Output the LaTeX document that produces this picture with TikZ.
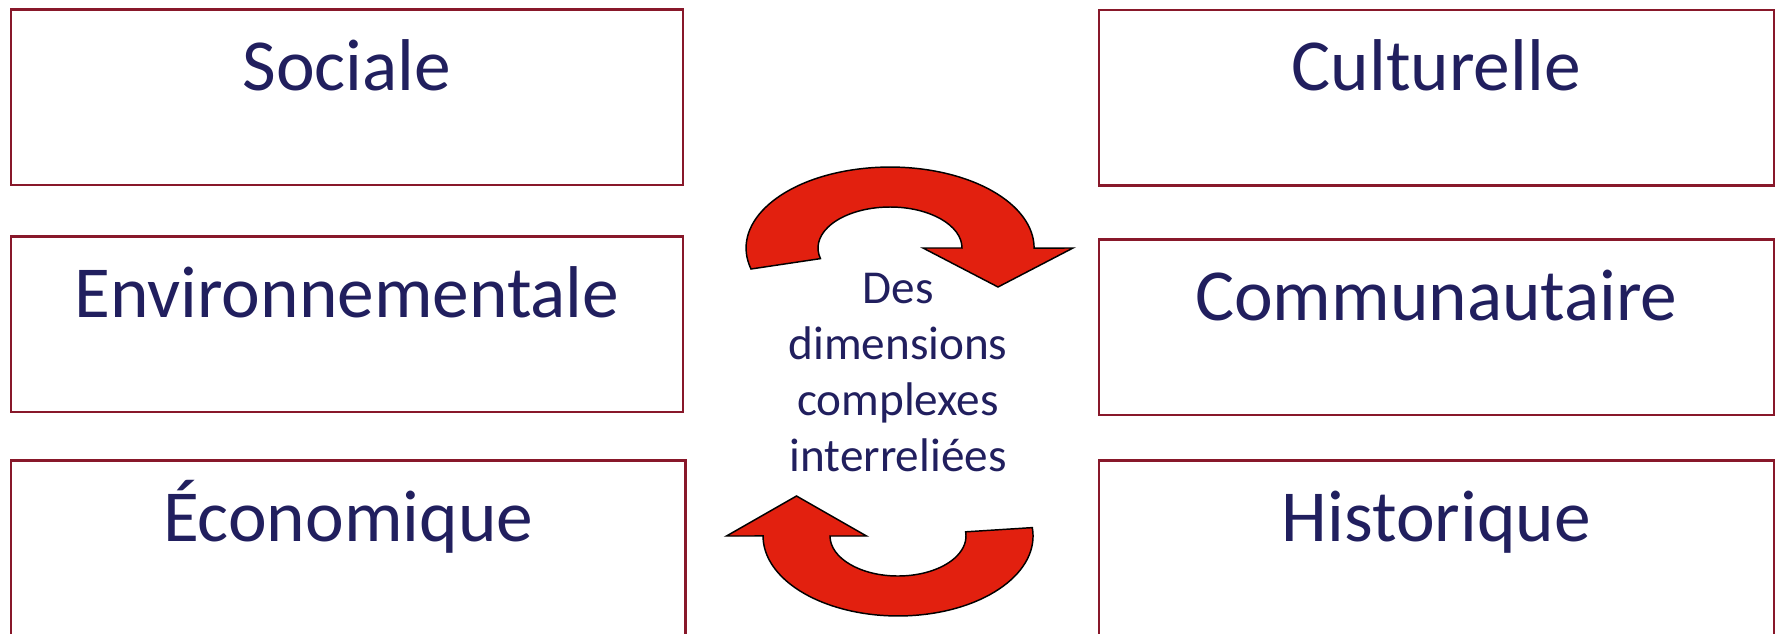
\documentclass[tikz,border=0pt]{standalone}
\usepackage{fontspec}
\setmainfont{Carlito}
\usetikzlibrary{positioning, calc}
\definecolor{frameRed}{HTML}{88182A}
\definecolor{textNavy}{HTML}{211F5E}
\definecolor{arrowRed}{HTML}{E2200F}
\tikzset{
    dimBox/.style={draw=frameRed, line width=1.9pt, inner sep=0pt, anchor=north west,
        minimum width=#1, text height=60.75pt, text depth=71pt, text=textNavy,
        font=\fontsize{55}{66}\selectfont},
    turnArrow/.style={fill=arrowRed, draw=black, line width=1.1pt, line join=miter}
}
\begin{document}
\begin{tikzpicture}[x=0.75pt, y=-0.75pt]
        \useasboundingbox (0,0) rectangle (1777,633);
        \clip (0,0) rectangle (1777,633);

        % Left column
        \node[dimBox=504pt] (sociale) at (9.5, 8) {Sociale};
        \node[dimBox=504pt] (environ) at (9.5, 235) {Environnementale};
        \node[dimBox=506pt] (econom) at (9.5, 459) {Économique};

        % Right column
        \node[dimBox=506.25pt] (culture) at (1097.5, 8.5) {Culturelle};
        \node[dimBox=506.25pt] (commun) at (1097.5, 238) {Communautaire};
        \node[dimBox=506.25pt] (histo) at (1097.5, 459) {Historique};

        % Centre text (base = last line)
        \node[anchor=base, align=center, text=textNavy, font=\fontsize{35.4}{41.8}\selectfont]
            (centre) at (898, 471) {Des\\dimensions\\complexes\\interreliées};

        % Upper turning arrow
        \draw[turnArrow] (751, 269) arc[start angle=165, end angle=360, x radius=144, y radius=81]
            -- (1073, 248) -- (998, 287) -- (923, 248) -- (962, 248)
            arc[start angle=360, end angle=165, x radius=72, y radius=41] -- cycle;

        % Lower turning arrow
        \draw[turnArrow] (1032.3, 527.6) arc[start angle=-6, end angle=180, x radius=135, y radius=80]
            -- (726.5, 536) -- (796.5, 496) -- (866.5, 536) -- (830, 536)
            arc[start angle=180, end angle=-6, x radius=68, y radius=40] -- cycle;
    \end{tikzpicture}
\end{document}
